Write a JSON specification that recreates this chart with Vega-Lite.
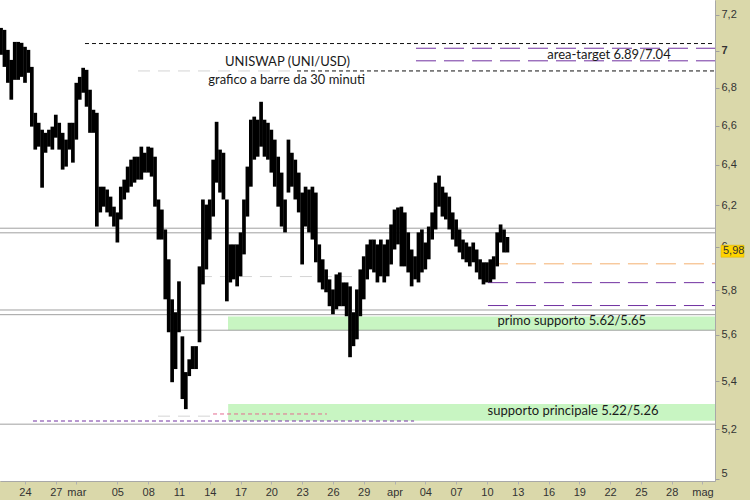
{
  "$schema": "https://vega.github.io/schema/vega-lite/v6.json",
  "width": 715,
  "height": 481,
  "autosize": {"type": "none"},
  "padding": {"left": 0, "top": 0, "right": 35, "bottom": 19},
  "background": "#dad8aa",
  "config": {"view": {"fill": "white", "stroke": null}},
  "datasets": {
    "price": [
      {"t":"2023-02-21T16:00:00Z","v":6.978,"v2":7.127},
      {"t":"2023-02-22T00:00:00Z","v":6.912,"v2":7.116},
      {"t":"2023-02-22T08:00:00Z","v":6.826,"v2":7.005},
      {"t":"2023-02-22T16:00:00Z","v":6.736,"v2":6.950},
      {"t":"2023-02-23T00:00:00Z","v":6.842,"v2":7.049},
      {"t":"2023-02-23T08:00:00Z","v":6.842,"v2":7.049},
      {"t":"2023-02-23T16:00:00Z","v":6.858,"v2":7.044},
      {"t":"2023-02-24T00:00:00Z","v":6.826,"v2":7.022},
      {"t":"2023-02-24T08:00:00Z","v":6.880,"v2":7.005},
      {"t":"2023-02-24T16:00:00Z","v":6.595,"v2":6.912},
      {"t":"2023-02-25T00:00:00Z","v":6.477,"v2":6.667},
      {"t":"2023-02-25T08:00:00Z","v":6.492,"v2":6.615},
      {"t":"2023-02-25T16:00:00Z","v":6.286,"v2":6.579},
      {"t":"2023-02-26T00:00:00Z","v":6.461,"v2":6.563},
      {"t":"2023-02-26T08:00:00Z","v":6.492,"v2":6.579},
      {"t":"2023-02-26T16:00:00Z","v":6.477,"v2":6.595},
      {"t":"2023-02-27T00:00:00Z","v":6.538,"v2":6.657},
      {"t":"2023-02-27T08:00:00Z","v":6.477,"v2":6.615},
      {"t":"2023-02-27T16:00:00Z","v":6.376,"v2":6.563},
      {"t":"2023-02-28T00:00:00Z","v":6.391,"v2":6.528},
      {"t":"2023-02-28T08:00:00Z","v":6.477,"v2":6.615},
      {"t":"2023-02-28T16:00:00Z","v":6.411,"v2":6.615},
      {"t":"2023-03-01T00:00:00Z","v":6.528,"v2":6.826},
      {"t":"2023-03-01T08:00:00Z","v":6.736,"v2":6.858},
      {"t":"2023-03-01T16:00:00Z","v":6.773,"v2":6.907},
      {"t":"2023-03-02T00:00:00Z","v":6.699,"v2":6.896},
      {"t":"2023-03-02T08:00:00Z","v":6.563,"v2":6.789},
      {"t":"2023-03-02T16:00:00Z","v":6.563,"v2":6.683},
      {"t":"2023-03-03T00:00:00Z","v":6.097,"v2":6.667},
      {"t":"2023-03-03T08:00:00Z","v":6.165,"v2":6.291},
      {"t":"2023-03-03T16:00:00Z","v":6.193,"v2":6.291},
      {"t":"2023-03-04T00:00:00Z","v":6.165,"v2":6.277},
      {"t":"2023-03-04T08:00:00Z","v":6.145,"v2":6.242},
      {"t":"2023-03-04T16:00:00Z","v":6.097,"v2":6.193},
      {"t":"2023-03-05T00:00:00Z","v":6.021,"v2":6.165},
      {"t":"2023-03-05T08:00:00Z","v":6.131,"v2":6.291},
      {"t":"2023-03-05T16:00:00Z","v":6.228,"v2":6.326},
      {"t":"2023-03-06T00:00:00Z","v":6.262,"v2":6.391},
      {"t":"2023-03-06T08:00:00Z","v":6.291,"v2":6.426},
      {"t":"2023-03-06T16:00:00Z","v":6.311,"v2":6.441},
      {"t":"2023-03-07T00:00:00Z","v":6.326,"v2":6.441},
      {"t":"2023-03-07T08:00:00Z","v":6.326,"v2":6.492},
      {"t":"2023-03-07T16:00:00Z","v":6.361,"v2":6.461},
      {"t":"2023-03-08T00:00:00Z","v":6.361,"v2":6.492},
      {"t":"2023-03-08T08:00:00Z","v":6.341,"v2":6.487},
      {"t":"2023-03-08T16:00:00Z","v":6.193,"v2":6.441},
      {"t":"2023-03-09T00:00:00Z","v":6.035,"v2":6.228},
      {"t":"2023-03-09T08:00:00Z","v":6.035,"v2":6.179},
      {"t":"2023-03-09T16:00:00Z","v":5.758,"v2":6.083},
      {"t":"2023-03-10T00:00:00Z","v":5.611,"v2":5.942},
      {"t":"2023-03-10T08:00:00Z","v":5.395,"v2":5.758},
      {"t":"2023-03-10T16:00:00Z","v":5.451,"v2":5.700},
      {"t":"2023-03-11T00:00:00Z","v":5.611,"v2":5.840},
      {"t":"2023-03-11T08:00:00Z","v":5.324,"v2":5.593},
      {"t":"2023-03-11T16:00:00Z","v":5.282,"v2":5.438},
      {"t":"2023-03-12T00:00:00Z","v":5.421,"v2":5.493},
      {"t":"2023-03-12T08:00:00Z","v":5.451,"v2":5.550},
      {"t":"2023-03-12T16:00:00Z","v":5.451,"v2":5.550},
      {"t":"2023-03-13T00:00:00Z","v":5.567,"v2":5.909},
      {"t":"2023-03-13T08:00:00Z","v":5.826,"v2":6.228},
      {"t":"2023-03-13T16:00:00Z","v":5.895,"v2":6.203},
      {"t":"2023-03-14T00:00:00Z","v":6.035,"v2":6.228},
      {"t":"2023-03-14T08:00:00Z","v":6.145,"v2":6.426},
      {"t":"2023-03-14T16:00:00Z","v":6.311,"v2":6.620},
      {"t":"2023-03-15T00:00:00Z","v":6.262,"v2":6.477},
      {"t":"2023-03-15T08:00:00Z","v":6.228,"v2":6.461},
      {"t":"2023-03-15T16:00:00Z","v":5.749,"v2":6.228},
      {"t":"2023-03-16T00:00:00Z","v":5.835,"v2":6.012},
      {"t":"2023-03-16T08:00:00Z","v":5.849,"v2":6.012},
      {"t":"2023-03-16T16:00:00Z","v":5.817,"v2":6.012},
      {"t":"2023-03-17T00:00:00Z","v":5.863,"v2":6.069},
      {"t":"2023-03-17T08:00:00Z","v":5.965,"v2":6.228},
      {"t":"2023-03-17T16:00:00Z","v":6.145,"v2":6.391},
      {"t":"2023-03-18T00:00:00Z","v":6.291,"v2":6.631},
      {"t":"2023-03-18T08:00:00Z","v":6.426,"v2":6.647},
      {"t":"2023-03-18T16:00:00Z","v":6.441,"v2":6.631},
      {"t":"2023-03-19T00:00:00Z","v":6.492,"v2":6.725},
      {"t":"2023-03-19T08:00:00Z","v":6.441,"v2":6.631},
      {"t":"2023-03-19T16:00:00Z","v":6.426,"v2":6.615},
      {"t":"2023-03-20T00:00:00Z","v":6.361,"v2":6.579},
      {"t":"2023-03-20T08:00:00Z","v":6.291,"v2":6.528},
      {"t":"2023-03-20T16:00:00Z","v":6.193,"v2":6.441},
      {"t":"2023-03-21T00:00:00Z","v":6.097,"v2":6.361},
      {"t":"2023-03-21T08:00:00Z","v":6.069,"v2":6.228},
      {"t":"2023-03-21T16:00:00Z","v":6.262,"v2":6.528},
      {"t":"2023-03-22T00:00:00Z","v":6.291,"v2":6.461},
      {"t":"2023-03-22T08:00:00Z","v":6.228,"v2":6.426},
      {"t":"2023-03-22T16:00:00Z","v":6.165,"v2":6.361},
      {"t":"2023-03-23T00:00:00Z","v":5.918,"v2":6.262},
      {"t":"2023-03-23T08:00:00Z","v":6.097,"v2":6.291},
      {"t":"2023-03-23T16:00:00Z","v":6.069,"v2":6.277},
      {"t":"2023-03-24T00:00:00Z","v":6.035,"v2":6.291},
      {"t":"2023-03-24T08:00:00Z","v":5.928,"v2":6.262},
      {"t":"2023-03-24T16:00:00Z","v":5.835,"v2":6.012},
      {"t":"2023-03-25T00:00:00Z","v":5.803,"v2":5.942},
      {"t":"2023-03-25T08:00:00Z","v":5.790,"v2":5.895},
      {"t":"2023-03-25T16:00:00Z","v":5.727,"v2":5.849},
      {"t":"2023-03-26T00:00:00Z","v":5.691,"v2":5.803},
      {"t":"2023-03-26T08:00:00Z","v":5.713,"v2":5.872},
      {"t":"2023-03-26T16:00:00Z","v":5.727,"v2":5.881},
      {"t":"2023-03-27T00:00:00Z","v":5.727,"v2":5.835},
      {"t":"2023-03-27T08:00:00Z","v":5.682,"v2":5.835},
      {"t":"2023-03-27T16:00:00Z","v":5.502,"v2":5.817},
      {"t":"2023-03-28T00:00:00Z","v":5.550,"v2":5.700},
      {"t":"2023-03-28T08:00:00Z","v":5.580,"v2":5.803},
      {"t":"2023-03-28T16:00:00Z","v":5.682,"v2":5.895},
      {"t":"2023-03-29T00:00:00Z","v":5.758,"v2":5.956},
      {"t":"2023-03-29T08:00:00Z","v":5.849,"v2":6.012},
      {"t":"2023-03-29T16:00:00Z","v":5.895,"v2":6.035},
      {"t":"2023-03-30T00:00:00Z","v":5.881,"v2":6.035},
      {"t":"2023-03-30T08:00:00Z","v":5.835,"v2":6.012},
      {"t":"2023-03-30T16:00:00Z","v":5.863,"v2":6.035},
      {"t":"2023-03-31T00:00:00Z","v":5.835,"v2":6.012},
      {"t":"2023-03-31T08:00:00Z","v":5.863,"v2":6.035},
      {"t":"2023-03-31T16:00:00Z","v":5.918,"v2":6.107},
      {"t":"2023-04-01T00:00:00Z","v":5.988,"v2":6.179},
      {"t":"2023-04-01T08:00:00Z","v":6.012,"v2":6.189},
      {"t":"2023-04-01T16:00:00Z","v":5.909,"v2":6.193},
      {"t":"2023-04-02T00:00:00Z","v":5.909,"v2":6.165},
      {"t":"2023-04-02T08:00:00Z","v":5.881,"v2":6.069},
      {"t":"2023-04-02T16:00:00Z","v":5.817,"v2":5.988},
      {"t":"2023-04-03T00:00:00Z","v":5.849,"v2":5.956},
      {"t":"2023-04-03T08:00:00Z","v":5.835,"v2":6.069},
      {"t":"2023-04-03T16:00:00Z","v":5.881,"v2":6.083},
      {"t":"2023-04-04T00:00:00Z","v":5.895,"v2":6.021},
      {"t":"2023-04-04T08:00:00Z","v":5.942,"v2":6.097},
      {"t":"2023-04-04T16:00:00Z","v":6.035,"v2":6.165},
      {"t":"2023-04-05T00:00:00Z","v":6.083,"v2":6.311},
      {"t":"2023-04-05T08:00:00Z","v":6.193,"v2":6.346},
      {"t":"2023-04-05T16:00:00Z","v":6.145,"v2":6.291},
      {"t":"2023-04-06T00:00:00Z","v":6.131,"v2":6.262},
      {"t":"2023-04-06T08:00:00Z","v":6.083,"v2":6.242},
      {"t":"2023-04-06T16:00:00Z","v":6.035,"v2":6.165},
      {"t":"2023-04-07T00:00:00Z","v":6.002,"v2":6.131},
      {"t":"2023-04-07T08:00:00Z","v":5.974,"v2":6.083},
      {"t":"2023-04-07T16:00:00Z","v":5.942,"v2":6.035},
      {"t":"2023-04-08T00:00:00Z","v":5.928,"v2":6.021},
      {"t":"2023-04-08T08:00:00Z","v":5.909,"v2":6.002},
      {"t":"2023-04-08T16:00:00Z","v":5.928,"v2":6.021},
      {"t":"2023-04-09T00:00:00Z","v":5.881,"v2":5.988},
      {"t":"2023-04-09T08:00:00Z","v":5.849,"v2":5.942},
      {"t":"2023-04-09T16:00:00Z","v":5.826,"v2":5.928},
      {"t":"2023-04-10T00:00:00Z","v":5.835,"v2":5.928},
      {"t":"2023-04-10T08:00:00Z","v":5.835,"v2":5.942},
      {"t":"2023-04-10T16:00:00Z","v":5.849,"v2":5.956},
      {"t":"2023-04-11T00:00:00Z","v":5.909,"v2":6.069},
      {"t":"2023-04-11T08:00:00Z","v":6.021,"v2":6.107},
      {"t":"2023-04-11T16:00:00Z","v":5.974,"v2":6.083},
      {"t":"2023-04-12T00:00:00Z","v":5.974,"v2":6.047}
    ],
    "hlines": [
      {"t":"2023-02-21T13:34:00Z","t2":"2023-05-02T05:17:00Z","v":6.089,"kind":"gray"},
      {"t":"2023-02-21T13:34:00Z","t2":"2023-05-02T05:17:00Z","v":6.067,"kind":"gray"},
      {"t":"2023-02-21T13:34:00Z","t2":"2023-05-02T05:17:00Z","v":5.710,"kind":"gray"},
      {"t":"2023-02-21T13:34:00Z","t2":"2023-05-02T05:17:00Z","v":5.689,"kind":"gray"},
      {"t":"2023-02-21T13:34:00Z","t2":"2023-05-02T05:17:00Z","v":5.220,"kind":"gray"},
      {"t":"2023-03-09T22:20:00Z","t2":"2023-05-02T05:17:00Z","v":5.620,"kind":"gray"},
      {"t":"2023-03-01T20:18:00Z","t2":"2023-05-02T05:17:00Z","v":7.04,"kind":"black"},
      {"t":"2023-03-22T12:00:00Z","t2":"2023-05-02T05:17:00Z","v":6.89,"kind":"black"},
      {"t":"2023-03-07T00:15:00Z","t2":"2023-03-22T12:00:00Z","v":6.89,"kind":"lightgray"},
      {"t":"2023-03-13T01:00:00Z","t2":"2023-03-28T15:20:00Z","v":5.862,"kind":"lightgray"},
      {"t":"2023-03-08T23:00:00Z","t2":"2023-03-14T07:40:00Z","v":5.253,"kind":"lightgray"},
      {"t":"2023-04-03T02:10:00Z","t2":"2023-05-02T05:17:00Z","v":7.014,"kind":"purple"},
      {"t":"2023-04-03T02:10:00Z","t2":"2023-05-02T05:17:00Z","v":6.945,"kind":"purple"},
      {"t":"2023-04-10T02:25:00Z","t2":"2023-05-02T05:17:00Z","v":5.834,"kind":"purple"},
      {"t":"2023-04-10T02:25:00Z","t2":"2023-05-02T05:17:00Z","v":5.730,"kind":"purple"},
      {"t":"2023-04-10T02:25:00Z","t2":"2023-05-02T05:17:00Z","v":5.921,"kind":"orange"},
      {"t":"2023-02-24T18:40:00Z","t2":"2023-04-02T21:40:00Z","v":5.233,"kind":"purpleshort"},
      {"t":"2023-03-14T07:40:00Z","t2":"2023-03-25T10:00:00Z","v":5.262,"kind":"pinkshort"}
    ],
    "bands": [
      {"t":"2023-03-15T18:40:00Z","t2":"2023-05-02T05:17:00Z","v":5.62,"v2":5.681},
      {"t":"2023-03-15T19:00:00Z","t2":"2023-05-02T05:17:00Z","v":5.234,"v2":5.303}
    ],
    "labels": [
      {"t":"2023-03-21T13:40:00Z","v":6.941,"text":"UNISWAP (UNI/USD)"},
      {"t":"2023-03-21T11:45:00Z","v":6.842,"text":"grafico a barre da 30 minuti"},
      {"t":"2023-04-21T21:20:00Z","v":6.978,"text":"area-target 6.89/7.04"},
      {"t":"2023-04-18T06:15:00Z","v":5.661,"text":"primo supporto 5.62/5.65"},
      {"t":"2023-04-18T09:20:00Z","v":5.275,"text":"supporto principale 5.22/5.26"}
    ],
    "tag": [
      {"t":"2023-05-02T05:17:00Z","v":5.98,"text":"5,98"}
    ]
  },
  "encoding": {
    "x": {
      "field": "t", "type": "temporal",
      "scale": {"type": "utc", "domain": [{"year":2023,"month":2,"date":21,"hours":13,"minutes":34,"utc":true},{"year":2023,"month":5,"date":2,"hours":5,"minutes":17,"utc":true}], "nice": false},
      "axis": {
        "title": null, "orient": "bottom", "grid": false,
        "values": [
          {"year":2023,"month":2,"date":24,"utc":true},
          {"year":2023,"month":2,"date":27,"utc":true},
          {"year":2023,"month":3,"date":1,"utc":true},
          {"year":2023,"month":3,"date":5,"utc":true},
          {"year":2023,"month":3,"date":8,"utc":true},
          {"year":2023,"month":3,"date":11,"utc":true},
          {"year":2023,"month":3,"date":14,"utc":true},
          {"year":2023,"month":3,"date":17,"utc":true},
          {"year":2023,"month":3,"date":20,"utc":true},
          {"year":2023,"month":3,"date":23,"utc":true},
          {"year":2023,"month":3,"date":26,"utc":true},
          {"year":2023,"month":3,"date":29,"utc":true},
          {"year":2023,"month":4,"date":1,"utc":true},
          {"year":2023,"month":4,"date":4,"utc":true},
          {"year":2023,"month":4,"date":7,"utc":true},
          {"year":2023,"month":4,"date":10,"utc":true},
          {"year":2023,"month":4,"date":13,"utc":true},
          {"year":2023,"month":4,"date":16,"utc":true},
          {"year":2023,"month":4,"date":19,"utc":true},
          {"year":2023,"month":4,"date":22,"utc":true},
          {"year":2023,"month":4,"date":25,"utc":true},
          {"year":2023,"month":4,"date":28,"utc":true},
          {"year":2023,"month":5,"date":1,"utc":true}
        ],
        "labelExpr": "utcdate(datum.value) == 1 ? ['gen','feb','mar','apr','mag','giu'][utcmonth(datum.value)] : utcFormat(datum.value, '%d')",
        "labelFlush": false, "labelOverlap": false,
        "labelFont": "Liberation Sans", "labelFontSize": 11, "labelColor": "#333333",
        "labelPadding": 2, "tickSize": 3, "tickColor": "#b0b0b0",
        "domainColor": "#a8a8a8", "zindex": 0
      }
    },
    "y": {
      "field": "v", "type": "quantitative",
      "scale": {"type": "log", "domain": [4.992, 7.285], "nice": false, "zero": false},
      "axis": {
        "title": null, "orient": "right", "grid": false,
        "values": [5, 5.2, 5.4, 5.6, 5.8, 6, 6.2, 6.4, 6.6, 6.8, 7, 7.2],
        "labelExpr": "replace(format(datum.value, '.1~f'), '.', ',')",
        "labelFontWeight": {"condition": {"test": "datum.value == 7", "value": "bold"}, "value": "normal"},
        "labelFlush": 3, "labelOverlap": false,
        "labelFont": "Liberation Sans", "labelFontSize": 11, "labelColor": "#333333",
        "labelPadding": 2, "tickSize": 4, "tickColor": "#a0a0a0",
        "domainColor": "#a8a8a8", "zindex": 0
      }
    }
  },
  "layer": [
    {
      "data": {"name": "bands"},
      "mark": {"type": "rect", "color": "#c8f5c2"},
      "encoding": {"x2": {"field": "t2"}, "y2": {"field": "v2"}}
    },
    {
      "data": {"name": "hlines"},
      "mark": {"type": "rule", "strokeWidth": 1},
      "encoding": {
        "x2": {"field": "t2"},
        "color": {"field": "kind", "type": "nominal", "legend": null,
          "scale": {"domain": ["gray","black","lightgray","purple","orange","purpleshort","pinkshort"],
                    "range": ["#a0a0a0","#111111","#d4d4d4","#7030a0","#f4b070","#7030a0","#e46a90"]}},
        "strokeDash": {"field": "kind", "type": "nominal", "legend": null,
          "scale": {"domain": ["gray","black","lightgray","purple","orange","purpleshort","pinkshort"],
                    "range": [[1,0],[4,3],[12,8],[20,8],[20,8],[4,3],[4,3]]}}
      }
    },
    {
      "data": {"name": "price"},
      "mark": {"type": "rule", "color": "#000000", "strokeWidth": 3.7, "clip": true},
      "encoding": {"y2": {"field": "v2"}}
    },
    {
      "data": {"name": "labels"},
      "mark": {"type": "text", "font": "Lato", "fontSize": 13, "color": "#1a1a1a", "align": "center", "baseline": "middle"},
      "encoding": {"text": {"field": "text"}}
    },
    {
      "data": {"name": "tag"},
      "mark": {"type": "rect", "color": "#ffd400", "stroke": "#d8b000", "strokeWidth": 0.5, "xOffset": 6, "x2Offset": 29, "yOffset": -6, "y2Offset": 6},
      "encoding": {"x2": {"field": "t"}, "y2": {"field": "v"}}
    },
    {
      "data": {"name": "tag"},
      "mark": {"type": "text", "font": "Liberation Sans", "fontSize": 11, "color": "#333333", "align": "left", "baseline": "middle", "dx": 8},
      "encoding": {"text": {"field": "text"}}
    }
  ]
}
